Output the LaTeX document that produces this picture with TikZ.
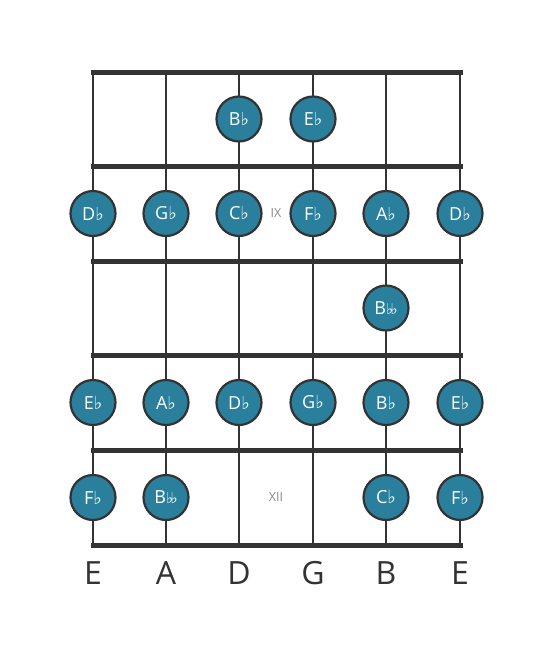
\documentclass[tikz,border=0pt]{standalone}
\usepackage{fontspec}
\setmainfont{Open Sans}
\newfontfamily\symfont{DejaVu Sans}
\definecolor{ink}{HTML}{333333}
\definecolor{teal}{HTML}{2A7F9C}
\definecolor{fretlbl}{HTML}{888888}
\begin{document}
\begin{tikzpicture}[x=1pt,y=-1pt,
  fretline/.style={ink,line width=5pt},
  stringline/.style={ink,line width=2.6pt},
  note/.style={circle,draw=ink,line width=2.2pt,fill=teal,minimum size=45pt,inner sep=0pt,text=white,font=\fontsize{18}{18}\selectfont},
  fretno/.style={text=fretlbl,font=\fontsize{12.5}{12.5}\selectfont},
  strname/.style={text=ink,font=\fontsize{32}{32}\selectfont}]
\useasboundingbox (0,0) rectangle (553,656);
\newcommand{\fl}{{\symfont\fontsize{18}{18}\selectfont ♭}}
\newcommand{\dfl}{{\symfont\fontsize{15}{15}\selectfont ♭\kern-2.5pt♭}}
% strings
\foreach \x/\n in {93/s1,166/s2,239/s3,313/s4,386/s5,460/s6}{
  \coordinate (\n t) at (\x,72);
  \coordinate (\n b) at (\x,545);
  \draw[stringline] (\n t) -- (\n b);
}
% frets
\foreach \y/\n in {72/f0,166/f1,261/f2,355/f3,450/f4,545/f5}{
  \coordinate (\n l) at (93,\y);
  \coordinate (\n r) at (460,\y);
  \draw[fretline,line cap=rect] (\n l) -- (\n r);
}
% row 1
\node[note] (r1s3) at (239,119) {B\fl};
\node[note] (r1s4) at (313,119) {E\fl};
% row 2
\node[note] (r2s1) at (93,213.5) {D\fl};
\node[note] (r2s2) at (166,213.5) {G\fl};
\node[note] (r2s3) at (239,213.5) {C\fl};
\node[fretno] (ix) at (276,213.5) {IX};
\node[note] (r2s4) at (313,213.5) {F\fl};
\node[note] (r2s5) at (386,213.5) {A\fl};
\node[note] (r2s6) at (460,213.5) {D\fl};
% row 3
\node[note] (r3s5) at (386,308) {B\dfl};
% row 4
\node[note] (r4s1) at (93,402.5) {E\fl};
\node[note] (r4s2) at (166,402.5) {A\fl};
\node[note] (r4s3) at (239,402.5) {D\fl};
\node[note] (r4s4) at (313,402.5) {G\fl};
\node[note] (r4s5) at (386,402.5) {B\fl};
\node[note] (r4s6) at (460,402.5) {E\fl};
% row 5
\node[note] (r5s1) at (93,497.5) {F\fl};
\node[note] (r5s2) at (166,497.5) {B\dfl};
\node[fretno] (xii) at (276,497.5) {XII};
\node[note] (r5s5) at (386,497.5) {C\fl};
\node[note] (r5s6) at (460,497.5) {F\fl};
% string names
\foreach \x/\t/\n in {93/E/n1,166/A/n2,239/D/n3,313/G/n4,386/B/n5,460/E/n6}{
  \node[strname] (\n) at (\x,573) {\t};
}
\end{tikzpicture}
\end{document}
